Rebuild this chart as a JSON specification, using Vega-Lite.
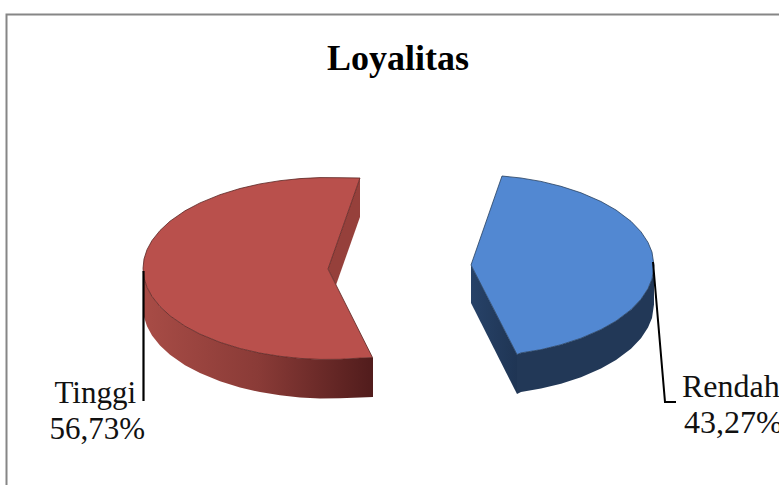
{
"$schema":"https://vega.github.io/schema/vega-lite/v6.json",
"width":779,"height":485,"padding":0,"autosize":{"type":"none"},
"background":"white","view":{"stroke":null},
"title":{"text":"Loyalitas","font":"Liberation Serif","fontSize":36,"fontWeight":"bold","color":"#000000","anchor":"middle","dx":8.5,"dy":106,"offset":0,"baseline":"alphabetic","orient":"top"},
"datasets":{
"frame":[{"x":6.5,"y":485},{"x":6.5,"y":14.5},{"x":779,"y":14.5}],
"redWallInner":[{"x":328,"y":269,"y2":269},{"x":336,"y":246.2,"y2":285},{"x":360,"y":178,"y2":217}],
"redWallOuter":[{"x":143,"y":268.5,"y2":307},{"x":144,"y":278,"y2":317},{"x":147,"y":287.3,"y2":326.3},{"x":152,"y":296.5,"y2":335.5},{"x":160,"y":306.5,"y2":345.5},{"x":170,"y":315.8,"y2":354.8},{"x":185,"y":326.2,"y2":365.2},{"x":200,"y":334.1,"y2":373.1},{"x":220,"y":342.3,"y2":381.3},{"x":240,"y":348.5,"y2":387.5},{"x":260,"y":353.1,"y2":392.1},{"x":280,"y":356.3,"y2":395.3},{"x":300,"y":358.4,"y2":397.4},{"x":320,"y":359.4,"y2":398.4},{"x":340,"y":359.3,"y2":398.3},{"x":360,"y":358.1,"y2":397.5},{"x":373,"y":357.5,"y2":397}],
"redTop":[{"o":1,"x":360,"y":178},{"o":2,"x":340,"y":177.7},{"o":3,"x":320,"y":177.6},{"o":4,"x":300,"y":178.6},{"o":5,"x":280,"y":180.7},{"o":6,"x":260,"y":183.9},{"o":7,"x":240,"y":188.5},{"o":8,"x":220,"y":194.7},{"o":9,"x":200,"y":202.9},{"o":10,"x":185,"y":210.8},{"o":11,"x":170,"y":221.2},{"o":12,"x":160,"y":230.5},{"o":13,"x":152,"y":240.5},{"o":14,"x":147,"y":249.7},{"o":15,"x":144,"y":259},{"o":16,"x":143,"y":268.5},{"o":17,"x":144,"y":278},{"o":18,"x":147,"y":287.3},{"o":19,"x":152,"y":296.5},{"o":20,"x":160,"y":306.5},{"o":21,"x":170,"y":315.8},{"o":22,"x":185,"y":326.2},{"o":23,"x":200,"y":334.1},{"o":24,"x":220,"y":342.3},{"o":25,"x":240,"y":348.5},{"o":26,"x":260,"y":353.1},{"o":27,"x":280,"y":356.3},{"o":28,"x":300,"y":358.4},{"o":29,"x":320,"y":359.4},{"o":30,"x":340,"y":359.3},{"o":31,"x":360,"y":358.1},{"o":32,"x":372.5,"y":357.5},{"o":33,"x":328,"y":269},{"o":34,"x":360,"y":178}],
"blueWallInner":[{"x":471,"y":265,"y2":303},{"x":517,"y":354.5,"y2":394}],
"blueWallOuter":[{"x":517,"y":354.5,"y2":394},{"x":521,"y":352.9,"y2":392},{"x":541,"y":349.6,"y2":388.6},{"x":561,"y":344.7,"y2":383.7},{"x":581,"y":338.2,"y2":377.2},{"x":601,"y":329.5,"y2":368.5},{"x":616,"y":321,"y2":360},{"x":631,"y":309.7,"y2":348.7},{"x":641,"y":299.2,"y2":338.2},{"x":648,"y":288.6,"y2":327.6},{"x":652,"y":278.9,"y2":317.9},{"x":654,"y":265.5,"y2":304.5}],
"blueTop":[{"o":1,"x":502,"y":176},{"o":2,"x":521,"y":178},{"o":3,"x":541,"y":181.4},{"o":4,"x":561,"y":186.3},{"o":5,"x":581,"y":192.8},{"o":6,"x":601,"y":201.5},{"o":7,"x":616,"y":210},{"o":8,"x":631,"y":221.3},{"o":9,"x":641,"y":231.8},{"o":10,"x":648,"y":242.4},{"o":11,"x":652,"y":252.1},{"o":12,"x":654,"y":265.5},{"o":13,"x":652,"y":278.9},{"o":14,"x":648,"y":288.6},{"o":15,"x":641,"y":299.2},{"o":16,"x":631,"y":309.7},{"o":17,"x":616,"y":321},{"o":18,"x":601,"y":329.5},{"o":19,"x":581,"y":338.2},{"o":20,"x":561,"y":344.7},{"o":21,"x":541,"y":349.6},{"o":22,"x":521,"y":352.9},{"o":23,"x":517,"y":354.5},{"o":24,"x":471,"y":265},{"o":25,"x":502,"y":176}],
"leaderRed":[{"x":143.5,"y":271},{"x":143.5,"y":401}],
"leaderBlue":[{"x":653,"y":262},{"x":665,"y":402},{"x":676,"y":402}],
"labelsLeft":[{"label":"Tinggi","x":136,"y":403},{"label":"56,73%","x":145,"y":439}],
"labelsRight":[{"label":"Rendah","x":682,"y":397},{"label":"43,27%","x":684,"y":433}]
},
"encoding":{
"x":{"field":"x","type":"quantitative","scale":{"domain":[0,779],"nice":false,"zero":false},"axis":null},
"y":{"field":"y","type":"quantitative","scale":{"domain":[485,0],"nice":false,"zero":false},"axis":null}
},
"layer":[
{"data":{"name":"frame"},"mark":{"type":"line","stroke":"#868686","strokeWidth":2,"clip":false},"encoding":{"order":{"field":"y","sort":"descending"}}},
{"data":{"name":"redWallOuter"},"mark":{"type":"area","orient":"vertical","fill":{"gradient":"linear","x1":0,"x2":1,"y1":0,"y2":0,"stops":[{"offset":0,"color":"#a84c46"},{"offset":0.5,"color":"#8a3b37"},{"offset":1,"color":"#511c1c"}]}},"encoding":{"y2":{"field":"y2"}}},
{"data":{"name":"redWallInner"},"mark":{"type":"area","orient":"vertical","fill":"#96403b"},"encoding":{"y2":{"field":"y2"}}},
{"data":{"name":"redTop"},"mark":{"type":"line","fill":"#b9504c","stroke":"#5a2422","strokeWidth":0.8},"encoding":{"order":{"field":"o","type":"quantitative"}}},
{"data":{"name":"blueWallOuter"},"mark":{"type":"area","orient":"vertical","fill":"#223857"},"encoding":{"y2":{"field":"y2"}}},
{"data":{"name":"blueWallInner"},"mark":{"type":"area","orient":"vertical","fill":{"gradient":"linear","x1":0,"x2":1,"y1":0,"y2":0,"stops":[{"offset":0,"color":"#274268"},{"offset":1,"color":"#1f3554"}]}},"encoding":{"y2":{"field":"y2"}}},
{"data":{"name":"blueTop"},"mark":{"type":"line","fill":"#5288d2","stroke":"#27405f","strokeWidth":0.8},"encoding":{"order":{"field":"o","type":"quantitative"}}},
{"data":{"name":"leaderRed"},"mark":{"type":"line","stroke":"#000000","strokeWidth":2.2}},
{"data":{"name":"leaderBlue"},"mark":{"type":"line","stroke":"#000000","strokeWidth":2},"encoding":{"order":{"field":"y"}}},
{"data":{"name":"labelsLeft"},"mark":{"type":"text","font":"Liberation Serif","fontSize":31,"align":"right","baseline":"alphabetic","color":"#111111"},"encoding":{"text":{"field":"label"}}},
{"data":{"name":"labelsRight"},"mark":{"type":"text","font":"Liberation Serif","fontSize":32,"align":"left","baseline":"alphabetic","color":"#111111"},"encoding":{"text":{"field":"label"}}}
]
}
